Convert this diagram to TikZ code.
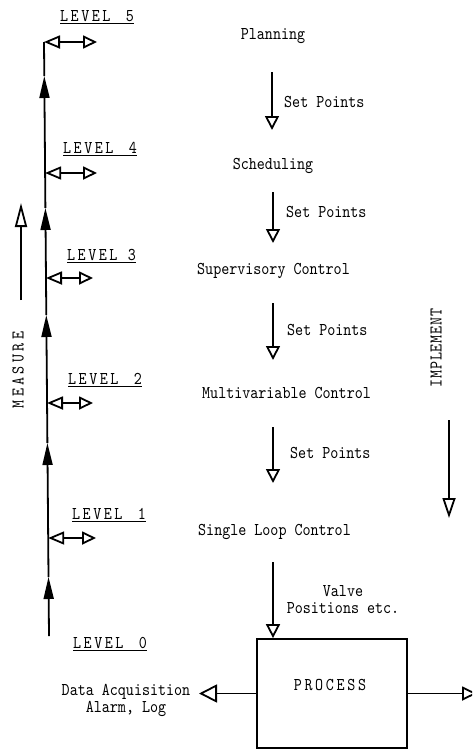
\documentclass[tikz,border=0pt]{standalone}
\usepackage{fontspec}
\usetikzlibrary{arrows.meta}
\newfontfamily\twf{lmmono10-regular.otf}[FakeStretch=0.85]
\newfontfamily\lvf{lmmono10-regular.otf}[FakeStretch=0.85,LetterSpace=14]
\newfontfamily\prf{lmmono10-regular.otf}[FakeStretch=0.85,LetterSpace=15]
\newfontfamily\msf{lmmono10-regular.otf}[FakeStretch=0.85,LetterSpace=19]
\newfontfamily\imf{lmmono10-regular.otf}[FakeStretch=0.85,LetterSpace=5]
\tikzset{
  txt/.style={font=\twf\fontsize{18}{17}\selectfont, inner sep=0pt},
  lvtxt/.style={font=\lvf\fontsize{18}{17}\selectfont, inner sep=0pt},
  ln/.style={line width=1.8pt},
  ul/.style={line width=1pt},
  fa/.style={-{Triangle[length=22pt,width=10pt]}},
  da/.style={{Triangle[open,length=16pt,width=13pt]}-{Triangle[open,length=14pt,width=13pt]}},
  oa/.style={-{Triangle[open,length=14pt,width=14pt]}},
  procbox/.style={draw, line width=1.8pt, minimum width=150pt, minimum height=109pt, inner sep=0pt},
}
\begin{document}
\begin{tikzpicture}[x=1pt,y=-1pt]
\clip (0,0) rectangle (472,750);
\fill[white] (0,0) rectangle (472,750);
% main measure line
\coordinate (mtop) at (44,42);
\coordinate (mbot) at (49,636);
\coordinate (t1) at (48.5,577);
\coordinate (t2) at (47.4,443);
\coordinate (t3) at (46.3,315);
\coordinate (t4) at (45.4,208);
\coordinate (t5) at (44.3,76);
\draw[ln,fa] (mbot) -- (t1);
\draw[ln,fa] (t1) -- (t2);
\draw[ln,fa] (t2) -- (t3);
\draw[ln,fa] (t3) -- (t4);
\draw[ln,fa] (t4) -- (t5);
\draw[ln] (t5) -- (mtop);
% double arrows
\coordinate (d4) at (45.1,173);
\coordinate (d3) at (46.0,278);
\coordinate (d2) at (47.0,403);
\coordinate (d1) at (48.2,538);
\coordinate (e5) at (97,42);
\coordinate (e4) at (97,173);
\coordinate (e3) at (93,278);
\coordinate (e2) at (93,403);
\coordinate (e1) at (96,538);
\draw[ln,da] (mtop) -- (e5);
\draw[ln,da] (d4) -- (e4);
\draw[ln,da] (d3) -- (e3);
\draw[ln,da] (d2) -- (e2);
\draw[ln,da] (d1) -- (e1);
% level labels
\node[lvtxt, anchor=base west] (L5) at (60,21) {LEVEL\kern5pt{} 5};
\node[lvtxt, anchor=base west] (L4) at (63,153) {LEVEL\kern5pt{} 4};
\node[lvtxt, anchor=base west] (L3) at (67,260) {LEVEL 3};
\node[lvtxt, anchor=base west] (L2) at (68,384) {LEVEL\kern5pt{} 2};
\node[lvtxt, anchor=base west] (L1) at (72,519) {LEVEL\kern5pt{} 1};
\node[lvtxt, anchor=base west] (L0) at (73,648) {LEVEL\kern5pt{} 0};
\foreach \n in {L5,L4,L3,L2,L1,L0}
  \draw[ul] ([yshift=-2.5pt]\n.base west) -- ([yshift=-2.5pt]\n.base east);
% measure arrow and label
\coordinate (m1) at (21,300);
\coordinate (m2) at (21,203);
\draw[ln,-{Triangle[open,length=24pt,width=12pt]}] (m1) -- (m2);
\node[font=\msf\fontsize{18}{17}\selectfont, inner sep=0pt, rotate=90] (meas) at (18,370) {MEASURE};
% right column
\node[txt, anchor=base] (plan) at (273,39) {Planning};
\node[txt, anchor=base west] (sp1) at (284,107) {Set Points};
\node[txt, anchor=base] (sched) at (273,169) {Scheduling};
\node[txt, anchor=base west] (sp2) at (286,217) {Set Points};
\node[txt, anchor=base west] (sup) at (197,274) {Supervisory Control};
\node[txt, anchor=base west] (sp3) at (287,335) {Set Points};
\node[txt, anchor=base west] (mv) at (202,398) {Multivariable Control};
\node[txt, anchor=base west] (sp4) at (290,458) {Set Points};
\node[txt, anchor=base west] (slc) at (198,535) {Single Loop Control};
\node[txt, align=center] (valve) at (343,600) {Valve\\Positions etc.};
\coordinate (a1s) at (272,72);  \coordinate (a1e) at (272,130);
\coordinate (a2s) at (273,192); \coordinate (a2e) at (273,243);
\coordinate (a3s) at (273,303); \coordinate (a3e) at (273,360);
\coordinate (a4s) at (273,427); \coordinate (a4e) at (273,483);
\coordinate (a5s) at (273,562);
\draw[ln,oa] (a1s) -- (a1e);
\draw[ln,oa] (a2s) -- (a2e);
\draw[ln,oa] (a3s) -- (a3e);
\draw[ln,oa] (a4s) -- (a4e);
% process box
\node[procbox] (proc) at (332,693.5) {};
\node[font=\prf\fontsize{18}{17}\selectfont, inner sep=0pt, anchor=base] (ptxt) at (330,690) {PROCESS};
\draw[ln,oa] (a5s) -- (a5s |- proc.north);
\coordinate (itip) at (199,693.5);
\coordinate (otip) at (477,693.5);
\draw[ln,-{Triangle[open,length=18pt,width=18pt]}] (proc.west) -- (itip);
\draw[ln,-{Triangle[open,length=15pt,width=14pt]}] (proc.east) -- (otip);
\node[txt, align=center] (daq) at (126,700) {Data Acquisition\\Alarm, Log};
% implement
\coordinate (i1) at (449,420);
\coordinate (i2) at (449,518);
\draw[ln,-{Triangle[open,length=20pt,width=13pt]}] (i1) -- (i2);
\node[font=\imf\fontsize{18}{17}\selectfont, inner sep=0pt, rotate=90] (impl) at (436,348) {IMPLEMENT};
\end{tikzpicture}
\end{document}
